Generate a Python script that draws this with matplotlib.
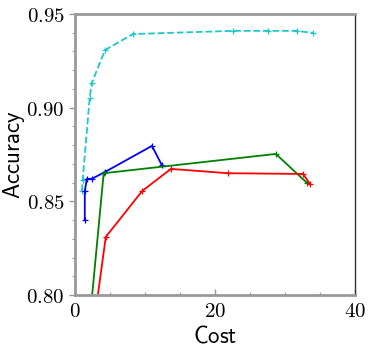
import numpy as np
import matplotlib
matplotlib.use("Agg")
import matplotlib.pyplot as plt
from matplotlib.ticker import MultipleLocator, FuncFormatter

plt.rcParams['mathtext.fontset'] = 'cm'

cyan_cost = [1.0, 1.1, 2.1, 2.4, 4.3, 8.3, 22.6, 27.6, 31.7, 34.0]
cyan_acc = [0.8555, 0.8614, 0.9052, 0.9132, 0.9308, 0.9393, 0.941, 0.941, 0.941, 0.9399]

blue_cost = [1.4, 1.4, 1.7, 2.4, 4.3, 11.0, 12.4]
blue_acc = [0.840, 0.8555, 0.862, 0.862, 0.8657, 0.8796, 0.8694]

green_cost = [2.2, 4.1, 28.7, 33.1]
green_acc = [0.79, 0.865, 0.8753, 0.860]

red_cost = [2.9, 4.4, 9.6, 13.7, 21.9, 32.6, 33.6]
red_acc = [0.79, 0.831, 0.8555, 0.8673, 0.865, 0.8646, 0.859]

fig = plt.figure(figsize=(3.74, 3.47), dpi=100)
ax = fig.add_axes([0.2005, 0.1499, 0.7485, 0.8098])

ax.plot(cyan_cost, cyan_acc, '--', color='#1cc8c8', lw=1.3, marker='+', ms=4, mew=0.9)
ax.plot(blue_cost, blue_acc, '-', color='blue', lw=1.3, marker='+', ms=4, mew=0.9)
ax.plot(green_cost, green_acc, '-', color='green', lw=1.3, marker='+', ms=4, mew=0.9)
ax.plot(red_cost, red_acc, '-', color='red', lw=1.3, marker='+', ms=4, mew=0.9)

ax.set_xlim(0, 40)
ax.set_ylim(0.80, 0.95)
ax.xaxis.set_major_locator(MultipleLocator(20))
ax.xaxis.set_minor_locator(MultipleLocator(5))
ax.yaxis.set_major_locator(MultipleLocator(0.05))
ax.yaxis.set_minor_locator(MultipleLocator(0.01))
ax.xaxis.set_major_formatter(FuncFormatter(lambda v, p: r'$%d$' % v))
ax.yaxis.set_major_formatter(FuncFormatter(lambda v, p: r'$%.2f$' % v))

for s in ['left', 'bottom', 'top']:
    ax.spines[s].set_color('#999999')
    ax.spines[s].set_linewidth(2)
ax.spines['right'].set_color('#333333')
ax.spines['right'].set_linewidth(1)

ax.tick_params(axis='both', which='both', colors='#999999', labelcolor='black', labelsize=15)
ax.tick_params(axis='both', which='major', length=4, width=1)
ax.tick_params(axis='both', which='minor', length=2.5, width=0.8)
ax.tick_params(axis='x', which='both', direction='in', pad=4)

ax.set_xlabel(r'$\mathsf{Cost}$', fontsize=16.5)
ax.set_ylabel(r'$\mathsf{Accuracy}$', fontsize=16.5)
ax.xaxis.set_label_coords(0.5, -0.105)
ax.yaxis.set_label_coords(-0.172, 0.5)

fig.savefig('out.png', dpi=100)
